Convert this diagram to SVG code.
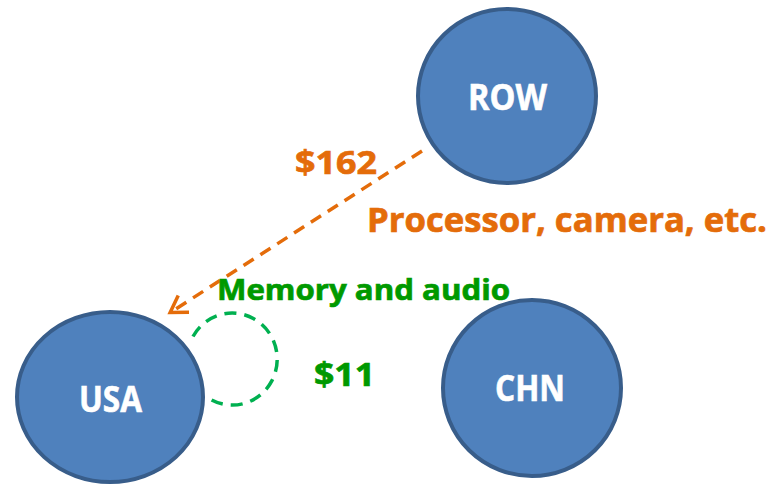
<svg xmlns="http://www.w3.org/2000/svg" width="784" height="484" viewBox="0 0 784 484">
<style>
.node{fill:#4f81bd;stroke:#385d8a;stroke-width:4}
.nl{font-family:"Open Sans","Liberation Sans",sans-serif;font-weight:bold;font-size:35px;fill:#ffffff;stroke:#ffffff;stroke-width:0.6}
.or{font-family:"Open Sans","Liberation Sans",sans-serif;font-weight:bold;fill:#e46c0a;stroke:#e46c0a;stroke-width:0.7}
.gr{font-family:"Open Sans","Liberation Sans",sans-serif;font-weight:bold;fill:#009900;stroke:#009900;stroke-width:0.7}
</style>
<defs>
<marker id="arr" markerWidth="12" markerHeight="12" refX="9" refY="6" orient="auto" markerUnits="userSpaceOnUse" viewBox="0 0 12 12" overflow="visible">
<path d="M-6,-4 L10,6 L-6,16" fill="none" stroke="#e46c0a" stroke-width="3.5"/>
</marker>
</defs>
<g id="connectors">
<line x1="422" y1="151" x2="171" y2="312" stroke="#e46c0a" stroke-width="3.5" stroke-dasharray="12,8" marker-end="url(#arr)"/>
<path d="M193,336.5 A45,46 0 1 1 211.6,400" fill="none" stroke="#00b050" stroke-width="3.5" stroke-dasharray="12,8"/>
</g>
<g id="ROW">
<ellipse class="node" cx="507" cy="96" rx="89" ry="87"/>
<text class="nl" x="468" y="110" textLength="79" lengthAdjust="spacingAndGlyphs">ROW</text>
</g>
<g id="USA">
<ellipse class="node" cx="110" cy="397" rx="93" ry="85"/>
<text class="nl" x="79" y="412" textLength="63" lengthAdjust="spacingAndGlyphs">USA</text>
</g>
<g id="CHN">
<ellipse class="node" cx="532" cy="388" rx="89" ry="88"/>
<text class="nl" x="495" y="401" textLength="70" lengthAdjust="spacingAndGlyphs">CHN</text>
</g>
<g id="labels">
<text class="or" x="295" y="174" font-size="33" textLength="82" lengthAdjust="spacingAndGlyphs">$162</text>
<text class="or" x="367" y="232" font-size="34" textLength="400" lengthAdjust="spacingAndGlyphs">Processor, camera, etc.</text>
<text class="gr" x="217" y="300" font-size="29" textLength="293" lengthAdjust="spacingAndGlyphs">Memory and audio</text>
<text class="gr" x="314" y="386" font-size="33" textLength="61" lengthAdjust="spacingAndGlyphs">$11</text>
</g>
</svg>
